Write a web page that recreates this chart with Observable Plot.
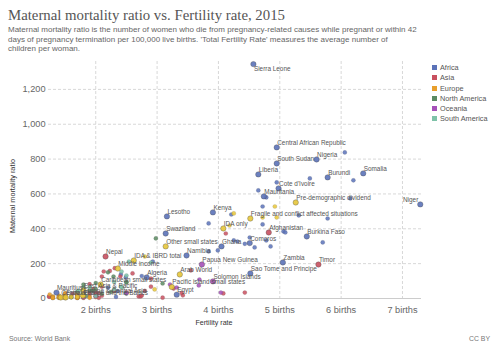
<!DOCTYPE html>
<html><head><meta charset="utf-8">
<script src="https://cdn.jsdelivr.net/npm/d3@7"></script>
<script src="https://cdn.jsdelivr.net/npm/@observablehq/plot@0.6"></script>
<style>
body{margin:0;background:#fff;}
#wrap{position:relative;width:500px;height:353px;font-family:"Liberation Sans",Arial,sans-serif;overflow:hidden;background:#fff;}
#title{position:absolute;left:8px;top:6px;font-family:"Liberation Serif",serif;font-size:14.8px;line-height:18px;color:#555;white-space:nowrap;}
#sub{position:absolute;left:8px;top:25px;font-size:8px;line-height:9.5px;color:#666;white-space:nowrap;}
#chart{position:absolute;left:0;top:55px;}
#legend{position:absolute;left:432px;top:63px;font-size:7.3px;color:#555;}
#legend div{height:10.3px;line-height:10.3px;white-space:nowrap;}
#legend span.sw{display:inline-block;width:5px;height:5px;margin-right:3px;vertical-align:0px;}
#ylab{position:absolute;left:12px;top:196px;transform:translate(-50%,-50%) rotate(-90deg);font-size:7.3px;color:#333;white-space:nowrap;}
#xlab{position:absolute;left:214px;top:323px;transform:translate(-50%,-50%);font-size:7.1px;color:#333;white-space:nowrap;}
#src{position:absolute;left:9px;top:335px;font-size:6.9px;color:#777;}
#cc{position:absolute;right:10px;top:335px;font-size:6.9px;color:#777;}
</style></head>
<body>
<div id="wrap">
  <div id="title">Maternal mortality ratio vs. Fertility rate, 2015</div>
  <div id="sub">Maternal mortality ratio is the number of women who die from pregnancy-related causes while pregnant or within 42<br>days of pregnancy termination per 100,000 live births. 'Total Fertility Rate' measures the average number of<br>children per woman.</div>
  <div id="chart"></div>
  <div id="legend"></div>
  <div id="ylab">Maternal mortality ratio</div>
  <div id="xlab">Fertility rate</div>
  <div id="src">Source: World Bank</div>
  <div id="cc">CC BY</div>
</div>
<script>
// ---- data: [entity, fertility rate (births per woman), maternal mortality ratio] ----
const continents = ["Africa", "Asia", "Europe", "North America", "Oceania", "South America"];
const xTicks = [2, 3, 4, 5, 6, 7];
const yTicks = [0, 200, 400, 600, 800, 1000, 1200];

const africa = [
  ["Sierra Leone",4.57,1345],["Central African Republic",4.95,867],["Chad",6.06,838],
  ["South Sudan",4.95,775],["Nigeria",5.60,798],["Liberia",4.65,712],["Guinea",5.49,689],
  ["Burundi",5.78,695],["Somalia",6.36,718],["Democratic Republic of Congo",6.20,678],
  ["Gambia",4.95,666],["Cote d'Ivoire",4.98,632],["Malawi",4.65,620],["Mauritania",4.74,586],
  ["Cameroon",4.78,580],["Mali",6.15,574],["Guinea-Bissau",4.72,528],["Niger",7.29,540],
  ["Eritrea",4.21,482],["Kenya",3.91,494],["Lesotho",3.16,471],["Mozambique",5.31,477],
  ["Angola",5.78,459],["Congo",4.72,425],["Zimbabwe",3.84,431],["Benin",5.06,385],
  ["Tanzania",5.09,379],["Burkina Faso",5.44,356],["Swaziland",3.14,373],["Uganda",5.70,322],
  ["Equatorial Guinea",4.78,333],["Senegal",4.85,299],["Madagascar",4.51,350],["Togo",4.25,333],
  ["Ethiopia",4.31,327],["Sudan",4.43,314],["Comoros",4.51,318],["Ghana",4.05,299],
  ["Rwanda",4.59,293],["Gabon",3.99,276],["Cape Verde",2.35,42],["Western Sahara",3.84,270],
  ["Namibia",3.48,247],["Djibouti",2.93,212],["Zambia",5.05,207],["Sao Tome and Principe",4.52,144],
  ["Egypt",3.32,22],["Algeria",2.83,121],["Mauritius",1.36,34],["Morocco",2.49,121],
  ["South Africa",2.41,138],["Botswana",2.75,129],["Libya",2.33,9],["Tunisia",2.2,62]
];
const asia = [
  ["Afghanistan",4.82,379],["Timor",5.63,195],["Nepal",2.16,241],["Yemen",4.12,373],
  ["Pakistan",3.55,161],["Kyrgyzstan",3.27,57],["Jordan",3.42,18],["Palestine",4.08,29],
  ["Iraq",4.43,34],["Israel",3.09,5],["Bangladesh",2.13,155],["Myanmar",2.23,158],
  ["India",2.31,174],["Cambodia",2.6,144],["Bhutan",2.1,126],["Philippines",2.9,114],
  ["Mongolia",2.8,44],["Syria",2.9,68],["Tajikistan",3.4,32],["Uzbekistan",2.5,36],
  ["Turkmenistan",2.3,42],["Vietnam",1.96,54],["Indonesia",2.4,126],["China",1.62,27],
  ["Iran",1.7,25],["Thailand",1.5,20],["Sri Lanka",2.05,30],["Malaysia",1.9,40],
  ["Japan",1.43,5],["South Korea",1.24,11],["Saudi Arabia",2.7,12],["Kazakhstan",2.73,12],
  ["Turkey",2.1,16],["Azerbaijan",2.0,25],["Georgia",2.0,36],["Armenia",1.5,25],
  ["Lebanon",1.7,15],["Oman",2.75,17],["Kuwait",2.05,4],["Qatar",2.0,13],
  ["United Arab Emirates",1.8,6],["Singapore",1.24,10],["Brunei",1.9,23],["Maldives",2.1,68],
  ["North Korea",1.9,82]
];
const europe = [
  ["Albania",1.7,29],["Austria",1.5,4],["Belarus",1.7,4],["Belgium",1.7,7],["Bosnia and Herzegovina",1.3,11],
  ["Bulgaria",1.5,11],["Croatia",1.4,8],["Czech Republic",1.5,4],["Denmark",1.7,6],["Estonia",1.6,9],
  ["Finland",1.7,3],["France",2.0,8],["Germany",1.5,6],["Greece",1.3,3],["Hungary",1.4,17],
  ["Iceland",1.8,3],["Ireland",1.9,8],["Italy",1.4,4],["Latvia",1.7,18],["Lithuania",1.7,10],
  ["Luxembourg",1.5,10],["Macedonia",1.5,8],["Moldova",1.25,23],["Montenegro",1.7,7],
  ["Netherlands",1.7,7],["Norway",1.7,5],["Poland",1.3,3],["Portugal",1.3,10],["Romania",1.5,31],
  ["Russia",1.8,25],["Serbia",1.5,17],["Slovakia",1.4,6],["Slovenia",1.6,9],["Spain",1.3,5],
  ["Sweden",1.9,4],["Switzerland",1.5,5],["Ukraine",1.5,24],["United Kingdom",1.8,9],
  ["Malta",1.4,9],["Cyprus",1.4,7]
];
const northAmerica = [
  ["Haiti",2.98,345],["Guatemala",3.09,86],["Honduras",2.29,126],["Nicaragua",2.2,150],
  ["Dominican Republic",2.5,92],["Belize",2.5,28],["El Salvador",2.0,54],["Panama",2.5,94],
  ["Mexico",2.25,38],["Jamaica",2.0,89],["Trinidad and Tobago",1.8,63],["Bahamas",1.8,80],
  ["Barbados",1.8,27],["Costa Rica",1.8,25],["Cuba",1.7,39],["United States",1.84,14],
  ["Canada",1.6,7],["Grenada",2.1,27],["Saint Lucia",1.9,48],["Saint Vincent and the Grenadines",1.95,45]
];
const oceania = [
  ["Papua New Guinea",3.73,195],["Solomon Islands",3.91,98],["Tonga",3.69,109],["Kiribati",3.68,75],
  ["Vanuatu",3.21,80],["Micronesia",3.32,63],["Samoa",4.04,34],["Fiji",2.5,30],
  ["Australia",1.8,6],["New Zealand",2.0,11]
];
const southAmerica = [
  ["Guyana",2.54,212],["Bolivia",2.9,206],["Suriname",2.42,155],["Paraguay",2.5,132],
  ["Ecuador",2.43,64],["Peru",2.41,68],["Colombia",1.9,64],["Venezuela",2.3,95],
  ["Brazil",1.72,44],["Argentina",2.3,52],["Chile",1.8,22],["Uruguay",2.0,15]
];
const aggregates = [
  ["Pre-demographic dividend",5.26,551],["Fragile and conflict affected situations",4.52,459],
  ["Heavily indebted poor countries",4.72,465],["Low income",4.95,465],["Sub-Saharan Africa",4.92,528],
  ["IDA total",4.25,488],["IDA only",4.08,402],["IDA blend",4.18,419],["Other small states",3.14,299],
  ["Lower middle income",2.8,241],["IDA & IBRD total",2.62,218],["Middle income",2.36,172],
  ["Arab World",3.37,138],["Pacific island small states",3.24,66],["Caribbean small states",2.08,80],
  ["East Asia & Pacific",1.80,46],["Central Europe and the Baltics",1.43,6],["Euro area",1.51,6],
  ["Europe & Central Asia",1.79,17],["Small states",2.96,52],["High income",1.7,10],
  ["European Union",1.6,8],["North America",1.8,13]
];
const labelled = [
  "Sierra Leone","Central African Republic","South Sudan","Nigeria","Liberia","Burundi","Somalia",
  "Cote d'Ivoire","Mauritania","Pre-demographic dividend","Niger","Fragile and conflict affected situations",
  "Kenya","Lesotho","IDA only","Afghanistan","Swaziland","Burkina Faso","Other small states","Ghana",
  "Comoros","Namibia","Papua New Guinea","Zambia","Timor","Nepal","IDA & IBRD total","Middle income",
  "Arab World","Sao Tome and Principe","Algeria","Solomon Islands","Caribbean small states",
  "Pacific island small states","Mauritius","East Asia & Pacific","Egypt","Euro area",
  "Europe & Central Asia","Central Europe and the Baltics"
];

// ---- build table ----
const groupName = "Aggregate";
const series = [[continents[0],africa],[continents[1],asia],[continents[2],europe],[continents[3],northAmerica],[continents[4],oceania],[continents[5],southAmerica],[groupName,aggregates]];
const rows = [];
for (const [g, arr] of series) for (const [name, f, m] of arr) rows.push({name, g, f, m});
const isLab = new Set(labelled);
const plain = rows.filter(d => !isLab.has(d.name));
const labs = rows.filter(d => isLab.has(d.name));

const palette = ["#5b72b8","#c8505f","#e89f2c","#5b8a62","#a550b8","#7ec2a8","#e6c53a"];

const chart = Plot.plot({
  width: 500, height: 278,
  marginLeft: 48, marginRight: 79, marginTop: 6, marginBottom: 35,
  style: {fontFamily: "'Liberation Sans', Arial, sans-serif", fontSize: "9.2px", color: "#666", background: "transparent"},
  x: {domain: [1.23, 7.31], label: null},
  y: {domain: [0, 1360], label: null},
  color: {type: "ordinal", domain: [...continents, groupName], range: palette},
  marks: [
    Plot.gridX(xTicks, {stroke: "#d8d8d8", strokeOpacity: 1, strokeDasharray: "3,2"}),
    Plot.gridY(yTicks.filter(d => d > 0), {stroke: "#d8d8d8", strokeOpacity: 1, strokeDasharray: "3,2"}),
    Plot.ruleY([0], {stroke: "#ccc"}),
    Plot.axisX(xTicks, {tickSize: 0, tickPadding: 8, tickFormat: d => `${d} births`, fill: "#666", fontSize: 9.2, label: null}),
    Plot.axisY(yTicks, {tickSize: 0, tickPadding: 3, tickFormat: d3.format(","), fill: "#666", fontSize: 9.2, label: null}),
    Plot.dot(plain, {x: "f", y: "m", r: 2.1, fill: "g", fillOpacity: 0.85, stroke: "#444", strokeOpacity: 0.25, strokeWidth: 0.5}),
    Plot.dot(labs, {x: "f", y: "m", r: 2.7, fill: "g", fillOpacity: 0.9, stroke: "#444", strokeOpacity: 0.55, strokeWidth: 0.6}),
    Plot.text(labs.filter(d => d.name !== "Niger" && d.name !== "Sierra Leone"), {x: "f", y: "m", text: "name", textAnchor: "start", dx: 0.5, dy: -4.6, fontSize: 6.4, fill: "#555"}),
    Plot.text(labs.filter(d => d.name === "Niger"), {x: "f", y: "m", text: "name", textAnchor: "end", dx: -2, dy: -4.6, fontSize: 6.4, fill: "#555"}),
    Plot.text(labs.filter(d => d.name === "Sierra Leone"), {x: "f", y: "m", text: "name", textAnchor: "start", dx: 0.5, dy: 5, fontSize: 6.4, fill: "#555"})
  ]
});
document.getElementById("chart").appendChild(chart);

const lg = document.getElementById("legend");
continents.forEach((c, i) => {
  const row = document.createElement("div");
  row.innerHTML = `<span class="sw" style="background:${palette[i]}"></span>${c}`;
  lg.appendChild(row);
});
</script>
</body></html>
